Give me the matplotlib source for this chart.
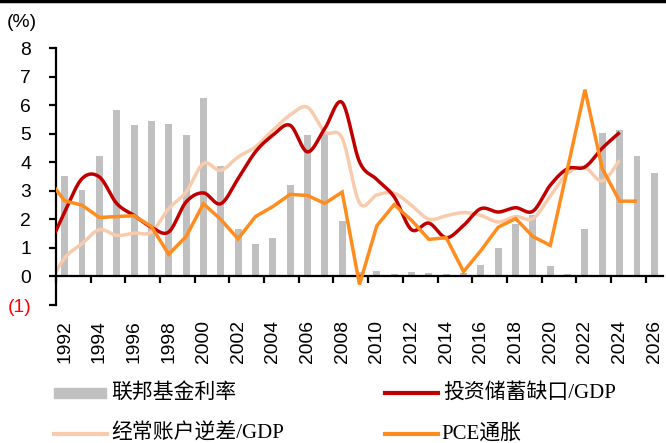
import numpy as np
import matplotlib
matplotlib.use("Agg")
import matplotlib.pyplot as plt
from matplotlib.lines import Line2D
from matplotlib.patches import Rectangle

# ---------------- data ----------------
bar_years = list(range(1992, 2027))
fed_funds = [3.52, 3.02, 4.21, 5.83, 5.30, 5.46, 5.35, 4.97, 6.24, 3.88,
             1.67, 1.13, 1.35, 3.22, 4.97, 5.02, 1.93, 0.16, 0.18, 0.10,
             0.14, 0.11, 0.09, 0.13, 0.40, 1.00, 1.83, 2.16, 0.38, 0.08,
             1.68, 5.03, 5.14, 4.21, 3.62]

gap_years = list(range(1991, 2025))
inv_saving_gap = [0.95, 2.26, 3.43, 3.49, 2.56, 2.14, 1.73, 1.56, 2.61, 2.93,
                  2.55, 3.43, 4.37, 4.95, 5.30, 4.37, 5.19, 6.10, 4.02, 3.40,
                  2.79, 1.64, 1.87, 1.36, 1.79, 2.38, 2.26, 2.41, 2.29, 3.20,
                  3.78, 3.84, 4.50, 5.05]

ca_years = list(range(1991, 2025))
ca_deficit = [-0.38, 0.65, 1.15, 1.64, 1.44, 1.52, 1.56, 2.38, 2.96, 3.96,
              3.72, 4.19, 4.54, 5.13, 5.66, 5.93, 5.07, 4.85, 2.58, 2.86,
              2.92, 2.49, 2.01, 2.13, 2.24, 2.14, 1.91, 2.10, 2.03, 2.82,
              3.62, 3.82, 3.35, 4.08]

pce_years = list(range(1991, 2026))
pce = [3.45, 2.65, 2.50, 2.07, 2.10, 2.13, 1.75, 0.78, 1.40, 2.55,
       2.00, 1.32, 2.10, 2.45, 2.88, 2.84, 2.56, 2.96, -0.28, 1.78,
       2.52, 1.97, 1.30, 1.36, 0.17, 0.91, 1.73, 2.03, 1.40, 1.09,
       3.80, 6.55, 3.78, 2.64, 2.64]

x_labels = [str(y) for y in range(1992, 2027, 2)]
y_ticks = [-1, 0, 1, 2, 3, 4, 5, 6, 7, 8]
y_tick_labels = ["(1)", "0", "1", "2", "3", "4", "5", "6", "7", "8"]

labels = ["联邦基金利率", "投资储蓄缺口/GDP", "经常账户逆差/GDP", "PCE通胀"]
C_BAR = "#c0c0c0"
C_RED = "#c00000"
C_LIGHT = "#f8cbad"
C_ORANGE = "#ff8c1e"


def smooth(xs, ys, n=24):
    xs = np.asarray(xs, float)
    ys = np.asarray(ys, float)
    P = np.column_stack([xs, ys])
    out = []
    m = len(P)
    t = np.linspace(0, 1, n)[:, None]
    for i in range(m - 1):
        p0 = P[i]
        p3 = P[i + 1]
        pm = P[i - 1] if i > 0 else P[i]
        pp = P[i + 2] if i + 2 < m else P[i + 1]
        c1 = p0 + (p3 - pm) / 6.0
        c2 = p3 - (pp - p0) / 6.0
        seg = ((1 - t) ** 3) * p0 + 3 * ((1 - t) ** 2) * t * c1 + 3 * (1 - t) * t ** 2 * c2 + t ** 3 * p3
        out.append(seg if i == 0 else seg[1:])
    arr = np.vstack(out)
    return arr[:, 0], arr[:, 1]


W, H = 666, 443
fig = plt.figure(figsize=(W / 100, H / 100), dpi=100)
ax = fig.add_axes([56 / W, 1 - 305 / H, (663 - 56) / W, (305 - 48.3) / H])

x0 = bar_years[0]
bx = np.array(bar_years) - x0
ax.bar(bx, fed_funds, width=0.4, color=C_BAR, zorder=1)

lw = 2.5
sx, sy = smooth(np.array(ca_years) - x0, ca_deficit)
ax.plot(sx, sy, color=C_LIGHT, lw=lw, zorder=2, solid_capstyle="butt")
sx, sy = smooth(np.array(gap_years) - x0, inv_saving_gap)
ax.plot(sx, sy, color=C_RED, lw=lw, zorder=3, solid_capstyle="butt")
ax.plot(np.array(pce_years) - x0, pce, color=C_ORANGE, lw=lw, zorder=4,
        solid_joinstyle="miter", solid_capstyle="butt")

ax.set_xlim(-0.5, len(bar_years) - 0.5)
ax.set_ylim(-1, 8)

for s in ["top", "right"]:
    ax.spines[s].set_visible(False)
ax.spines["bottom"].set_position(("data", 0))
ax.spines["bottom"].set_linewidth(1.6)
ax.spines["left"].set_linewidth(1.6)

tick_font = dict(family="Liberation Sans", size=13.9)
ax.set_xticks(np.arange(-0.5, len(bar_years) - 1, 2))
ax.set_xticklabels([])
ax.tick_params(axis="x", direction="out", length=5, width=1.6)

ax.set_yticks(y_ticks)
ax.set_yticklabels(y_tick_labels, fontdict=tick_font)
ax.tick_params(axis="y", direction="out", length=5, width=1.6, pad=13)
for lab in ax.get_yticklabels():
    if lab.get_text() == "(1)":
        lab.set_color("red")

sec = ax.secondary_xaxis("bottom")
sec.set_xticks(np.arange(0, len(bar_years), 2))
sec.set_xticklabels(x_labels, fontdict=tick_font, rotation=90)
sec.tick_params(length=0, pad=11)
sec.spines["bottom"].set_visible(False)

fig.text(7 / W, 1 - 22.5 / H, "(%)", fontdict=tick_font, ha="left", va="center")

fig.add_artist(Line2D([0, 1], [1 - 1.2 / H, 1 - 1.2 / H], color="black", lw=2.5,
                      transform=fig.transFigure))

# legend (manual layout)
leg_font = dict(family=["Liberation Serif", "Noto Sans CJK SC"], size=15)
entries = [
    (labels[0], "bar", C_BAR, 54, 393, 111),
    (labels[1], "line", C_RED, 385, 393, 443),
    (labels[2], "line", C_LIGHT, 54, 434, 111),
    (labels[3], "line", C_ORANGE, 385, 434, 441),
]
for text, kind, col, hx, hy, tx in entries:
    if kind == "bar":
        fig.add_artist(Rectangle((hx / W, 1 - (hy + 5) / H), 52 / W, 10 / H,
                                 color=col, transform=fig.transFigure))
    else:
        fig.add_artist(Line2D([hx / W, (hx + 53) / W], [1 - hy / H, 1 - hy / H],
                              color=col, lw=3, transform=fig.transFigure))
    fig.text(tx / W, 1 - hy / H, text, fontdict=leg_font, ha="left", va="center")

fig.savefig("out.png", dpi=100)
